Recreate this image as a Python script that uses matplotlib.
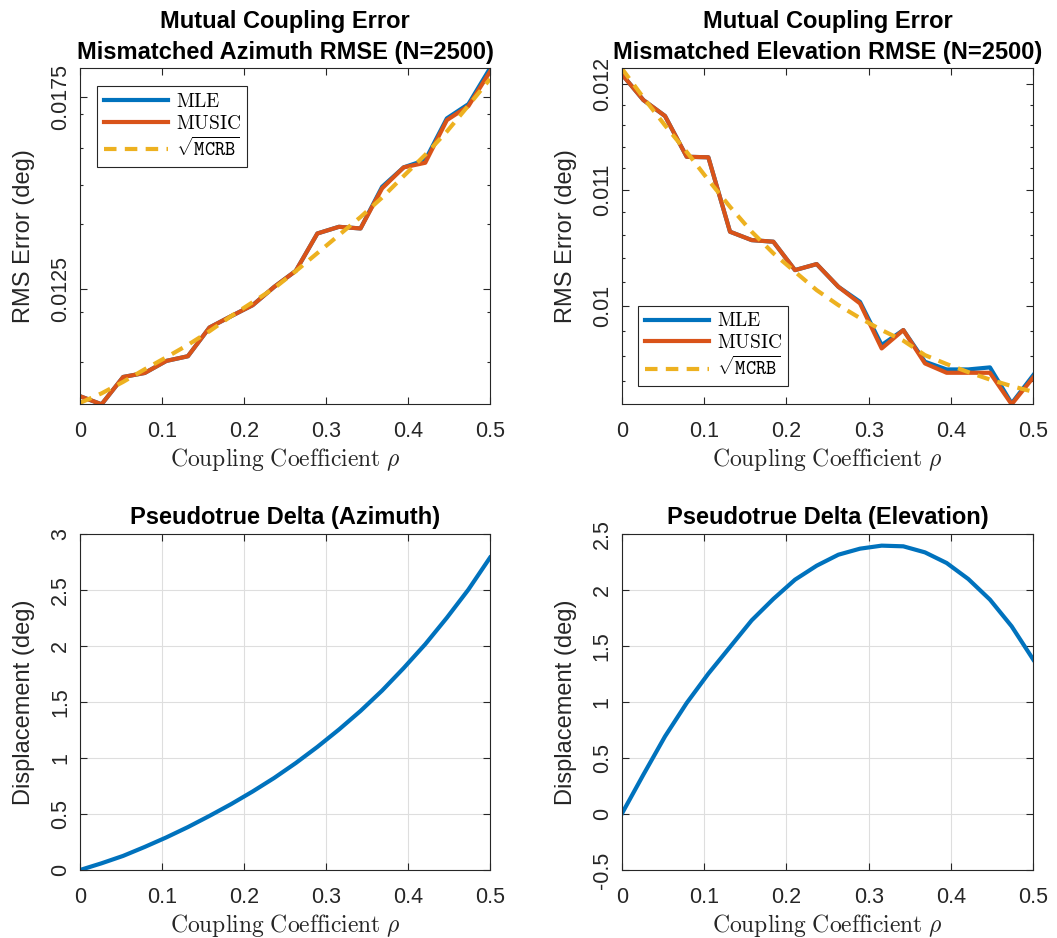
import matplotlib
matplotlib.use("Agg")
import matplotlib.pyplot as plt
import numpy as np
from matplotlib.ticker import FixedLocator, NullFormatter, FuncFormatter

plt.rcParams['font.family'] = ['Liberation Sans', 'DejaVu Sans']
plt.rcParams['mathtext.fontset'] = 'cm'
plt.rcParams['axes.unicode_minus'] = False

# coupling coefficient sweep (20 points)
rho = np.linspace(0, 0.5, 20)

# azimuth RMSE (deg)
az_mle = [0.010355, 0.010209, 0.010710, 0.010786, 0.011016, 0.011107, 0.011681,
          0.011915, 0.012147, 0.012544, 0.012901, 0.013775, 0.013937, 0.013897,
          0.014950, 0.015469, 0.015668, 0.016856, 0.017283, 0.018404]
az_music = [0.010355, 0.010209, 0.010710, 0.010786, 0.011016, 0.011107, 0.011681,
            0.011915, 0.012147, 0.012544, 0.012901, 0.013775, 0.013937, 0.013897,
            0.014910, 0.015469, 0.015594, 0.016805, 0.017224, 0.018296]
az_mcrb = [0.010234, 0.010407, 0.010619, 0.010856, 0.011087, 0.011330, 0.011605,
           0.011915, 0.012211, 0.012515, 0.012895, 0.013309, 0.013736, 0.014178,
           0.014671, 0.015235, 0.015814, 0.016471, 0.017240, 0.018061]

# elevation RMSE (deg)
el_mle = [0.012100, 0.011844, 0.011690, 0.011305, 0.011300, 0.010630, 0.010557,
          0.010543, 0.010300, 0.010351, 0.010160, 0.010035, 0.009685, 0.009805,
          0.009553, 0.009493, 0.009493, 0.009509, 0.009232, 0.009449]
el_music = [0.012100, 0.011844, 0.011690, 0.011305, 0.011300, 0.010630, 0.010557,
            0.010543, 0.010300, 0.010351, 0.010160, 0.010022, 0.009658, 0.009805,
            0.009540, 0.009467, 0.009467, 0.009467, 0.009225, 0.009431]
el_mcrb = [0.012157, 0.011868, 0.011600, 0.011350, 0.011091, 0.010850, 0.010630,
           0.010443, 0.010286, 0.010132, 0.010008, 0.009902, 0.009805, 0.009720,
           0.009605, 0.009535, 0.009472, 0.009414, 0.009364, 0.009320]

# pseudotrue displacement (deg)
delta_az = [0.0, 0.060, 0.126, 0.206, 0.291, 0.383, 0.483, 0.588, 0.701, 0.822,
            0.955, 1.099, 1.254, 1.420, 1.602, 1.803, 2.016, 2.252, 2.504, 2.789]
delta_el = [0.0, 0.351, 0.693, 0.991, 1.253, 1.491, 1.729, 1.920, 2.092, 2.217,
            2.315, 2.369, 2.396, 2.390, 2.336, 2.241, 2.098, 1.914, 1.676, 1.378]

xticks = [0, 0.1, 0.2, 0.3, 0.4, 0.5]

BLUE = '#0072BD'
ORANGE = '#D95319'
YELLOW = '#EDB120'
AXC = '#262626'

TICK_FS = 15.5
LABEL_FS = 17
XLABEL = r'$\mathrm{Coupling\ Coefficient}\ \rho$'

fig = plt.figure(figsize=(10.57, 9.38), dpi=100)
W, H = 1057.0, 938.0


def make_axes(left, top, right, bottom):
    return fig.add_axes([left / W, 1 - bottom / H, (right - left) / W, (bottom - top) / H])


def style(ax):
    for s in ax.spines.values():
        s.set_color(AXC)
        s.set_linewidth(0.8)
    ax.tick_params(which='both', direction='in', top=True, right=True,
                   colors=AXC, labelsize=TICK_FS, width=0.8)
    ax.tick_params(which='major', length=5)
    ax.tick_params(which='minor', length=2.5)
    ax.tick_params(axis='x', pad=12)
    ax.tick_params(axis='y', pad=6.5)
    ax.set_xlim(0, 0.5)
    ax.xaxis.set_major_locator(FixedLocator(xticks))
    ax.xaxis.set_major_formatter(FuncFormatter(lambda v, p: '%g' % v))
    for lab in ax.get_yticklabels():
        lab.set_rotation(90)
        lab.set_va('center')
    ax.set_xlabel(XLABEL, fontsize=LABEL_FS, color=AXC, labelpad=3)


def rmse_panel(ax, mle, music, mcrb, title, major, minor, loc, anchor):
    ax.plot(rho, mle, color=BLUE, lw=3, label=r'$\mathrm{MLE}$')
    ax.plot(rho, music, color=ORANGE, lw=3, label=r'$\mathrm{MUSIC}$')
    ax.plot(rho, mcrb, color=YELLOW, lw=3, dashes=(3, 2), label=r'$\sqrt{\mathtt{MCRB}}$')
    ax.set_yscale('log')
    allv = np.concatenate([mle, music, mcrb])
    ax.set_ylim(allv.min(), allv.max())
    ax.yaxis.set_major_locator(FixedLocator(major))
    ax.yaxis.set_major_formatter(FuncFormatter(lambda v, p: '%g' % v))
    ax.yaxis.set_minor_locator(FixedLocator(minor))
    ax.yaxis.set_minor_formatter(NullFormatter())
    style(ax)
    ax.set_ylabel('RMS Error (deg)', fontsize=LABEL_FS, color=AXC, labelpad=10.5)
    ax.set_title(title, fontsize=LABEL_FS, fontweight='bold', color='black',
                 pad=7, linespacing=1.4)
    leg = ax.legend(loc=loc, bbox_to_anchor=anchor, borderaxespad=0, fontsize=14,
                    handlelength=3.3, labelspacing=0.2, borderpad=0.35,
                    handletextpad=0.4, fancybox=False, framealpha=1)
    leg.get_frame().set_edgecolor(AXC)
    leg.get_frame().set_linewidth(0.8)


def delta_panel(ax, delta, title, ylim, yticks):
    ax.grid(True, color='#dedede', lw=0.8)
    ax.set_axisbelow(True)
    ax.plot(rho, delta, color=BLUE, lw=3)
    ax.set_ylim(*ylim)
    ax.yaxis.set_major_locator(FixedLocator(yticks))
    ax.yaxis.set_major_formatter(FuncFormatter(lambda v, p: '%g' % v))
    style(ax)
    ax.set_ylabel('Displacement (deg)', fontsize=LABEL_FS, color=AXC, labelpad=10.5)
    ax.set_title(title, fontsize=LABEL_FS, fontweight='bold', color='black', pad=7)


ax1 = make_axes(80, 68.3, 490, 404.3)
rmse_panel(ax1, az_mle, az_music, az_mcrb,
           'Mutual Coupling Error\nMismatched Azimuth RMSE (N=2500)',
           [0.0125, 0.0175], [0.011, 0.012, 0.014, 0.015, 0.016, 0.017],
           'upper left', (0.041, 0.947))

ax2 = make_axes(621.7, 68.3, 1033.3, 404.3)
rmse_panel(ax2, el_mle, el_music, el_mcrb,
           'Mutual Coupling Error\nMismatched Elevation RMSE (N=2500)',
           [0.01, 0.011, 0.012],
           [0.0094, 0.0096, 0.0098, 0.0102, 0.0104, 0.0106, 0.0108,
            0.0112, 0.0114, 0.0116, 0.0118],
           'lower left', (0.039, 0.054))

ax3 = make_axes(80, 534, 490, 870)
delta_panel(ax3, delta_az, 'Pseudotrue Delta (Azimuth)', (0, 3),
            [0, 0.5, 1, 1.5, 2, 2.5, 3])

ax4 = make_axes(621.7, 534, 1033.3, 870)
delta_panel(ax4, delta_el, 'Pseudotrue Delta (Elevation)', (-0.5, 2.5),
            [-0.5, 0, 0.5, 1, 1.5, 2, 2.5])

fig.savefig('out.png', dpi=100, facecolor='white')
